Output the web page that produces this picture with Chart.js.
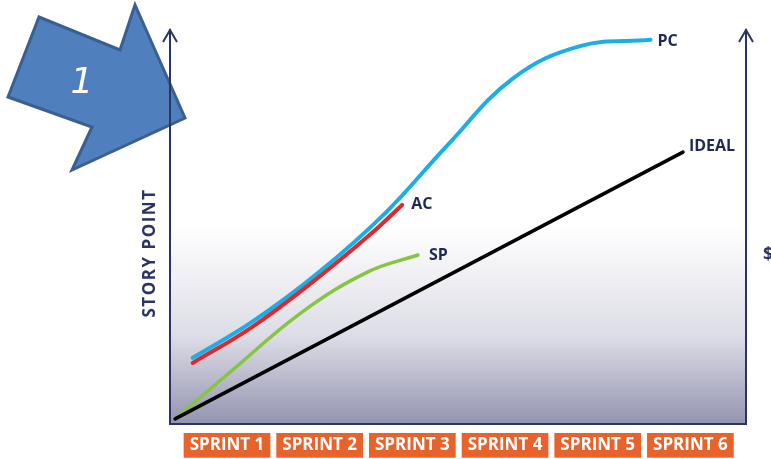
<!DOCTYPE html>
<html>
<head>
<meta charset="utf-8">
<script src="https://cdn.jsdelivr.net/npm/chart.js@4.4.0/dist/chart.umd.min.js"></script>
<style>
  html, body { margin: 0; padding: 0; background: #ffffff; }
  #wrap { width: 771px; height: 459px; }
</style>
</head>
<body>
<div id="wrap"><canvas id="burnChart" width="771" height="459"></canvas></div>
<script>
// sprint ticks (one unit per sprint, centres at n - 0.5)
const sprintLabels = ['SPRINT 1', 'SPRINT 2', 'SPRINT 3', 'SPRINT 4', 'SPRINT 5', 'SPRINT 6'];
const sprintCentres = [0.5, 1.5, 2.5, 3.5, 4.5, 5.5];

// story points (0 - 100 scale)
const idealX = [-0.06, 5.42];
const idealY = [1.3, 69.0];

const spX = [-0.05, 0.56, 1.31, 2.02, 2.56];
const spY = [1.5, 13.7, 28.4, 38.6, 42.9];

const acX = [0.13, 0.77, 1.48, 2.05, 2.39];
const acY = [15.5, 24.6, 37.1, 48.2, 55.6];

const pcX = [0.13, 0.77, 1.48, 2.21, 2.88, 3.59, 4.31, 5.07];
const pcY = [16.8, 25.9, 38.3, 53.6, 70.8, 87.8, 95.9, 97.5];

const NAVY = '#2b3463';

function pts(xs, ys) {
  return xs.map((x, i) => ({ x: x, y: ys[i] }));
}

const ctx = document.getElementById('burnChart').getContext('2d');

// background gradient, call-out arrow, axis arrowheads
const decor = {
  id: 'decor',
  beforeDraw(chart) {
    const { ctx, chartArea: a } = chart;
    const g = ctx.createLinearGradient(0, a.top, 0, a.bottom);
    g.addColorStop(0, '#ffffff');
    g.addColorStop(0.5, '#ffffff');
    g.addColorStop(0.78, '#dcdce6');
    g.addColorStop(1, '#9394b0');
    ctx.save();
    ctx.fillStyle = g;
    ctx.fillRect(a.left, a.top, a.right - a.left, a.bottom - a.top);

    // big blue arrow with the "1"
    ctx.beginPath();
    ctx.moveTo(39, 17);
    ctx.lineTo(120, 50);
    ctx.lineTo(135, 5);
    ctx.lineTo(185, 118);
    ctx.lineTo(72, 170);
    ctx.lineTo(92, 127);
    ctx.lineTo(8, 97);
    ctx.closePath();
    ctx.fillStyle = '#4f7fbd';
    ctx.fill();
    ctx.lineWidth = 3;
    ctx.strokeStyle = '#3a5f91';
    ctx.lineJoin = 'miter';
    ctx.stroke();
    ctx.fillStyle = '#ffffff';
    ctx.font = 'oblique 36px "DejaVu Sans"';
    ctx.textAlign = 'center';
    ctx.textBaseline = 'middle';
    ctx.fillText('1', 82, 84);
    ctx.restore();
  },
  afterDraw(chart) {
    const { ctx, chartArea: a } = chart;
    ctx.save();
    ctx.strokeStyle = NAVY;
    ctx.lineWidth = 2;
    [a.left, a.right].forEach(x => {
      ctx.beginPath();
      ctx.moveTo(x - 7, a.top + 12);
      ctx.lineTo(x, a.top);
      ctx.lineTo(x + 7, a.top + 12);
      ctx.stroke();
    });

    // axis titles
    ctx.fillStyle = NAVY;
    ctx.font = 'bold 17px "Open Sans"';
    ctx.textAlign = 'center';
    ctx.textBaseline = 'middle';
    ctx.translate(150, 253);
    ctx.rotate(-Math.PI / 2);
    if ('letterSpacing' in ctx) ctx.letterSpacing = '1.5px';
    ctx.fillText('STORY POINT', 0, 0);
    ctx.restore();

    ctx.save();
    ctx.fillStyle = NAVY;
    ctx.font = 'bold 18px "Open Sans"';
    ctx.textBaseline = 'middle';
    ctx.fillText('$', 763, 255);
    ctx.restore();
  }
};

// series name at the end of each line
const endLabels = {
  id: 'endLabels',
  afterDatasetsDraw(chart) {
    const { ctx } = chart;
    ctx.save();
    ctx.fillStyle = '#1f2857';
    ctx.font = 'bold 16px "Open Sans"';
    ctx.textBaseline = 'middle';
    ctx.textAlign = 'left';
    chart.data.datasets.forEach((ds, i) => {
      const meta = chart.getDatasetMeta(i);
      const last = meta.data[meta.data.length - 1];
      ctx.fillText(ds.label, last.x + ds.tagDx, last.y + ds.tagDy);
    });
    ctx.restore();
  }
};

new Chart(ctx, {
  type: 'line',
  data: {
    datasets: [
      {
        label: 'IDEAL',
        data: pts(idealX, idealY),
        borderColor: '#000000',
        borderWidth: 3.5,
        tension: 0,
        tagDx: 6, tagDy: -6
      },
      {
        label: 'SP',
        data: pts(spX, spY),
        borderColor: '#86c540',
        borderWidth: 3.5,
        tension: 0.4,
        tagDx: 11, tagDy: 0
      },
      {
        label: 'AC',
        data: pts(acX, acY),
        borderColor: '#e2262b',
        borderWidth: 4,
        tension: 0.4,
        tagDx: 9, tagDy: 0
      },
      {
        label: 'PC',
        data: pts(pcX, pcY),
        borderColor: '#1aaee6',
        borderWidth: 4,
        tension: 0.4,
        tagDx: 7, tagDy: 2
      }
    ]
  },
  options: {
    responsive: false,
    animation: false,
    layout: { padding: { top: 30, left: 0, right: 0, bottom: 0 } },
    elements: {
      point: { radius: 0, hoverRadius: 0 },
      line: { borderCapStyle: 'round', borderJoinStyle: 'round', fill: false }
    },
    scales: {
      x: {
        type: 'linear',
        min: -0.115,
        max: 6.1,
        afterBuildTicks(scale) {
          scale.ticks = sprintCentres.map(v => ({ value: v }));
        },
        afterFit(scale) { scale.height = 35; },
        grid: { display: false, drawTicks: false },
        border: { display: true, color: NAVY, width: 2 },
        ticks: {
          autoSkip: false,
          maxRotation: 0,
          padding: 12,
          color: '#ffffff',
          font: { family: 'Open Sans', size: 17, weight: 'bold', lineHeight: 1.1 },
          showLabelBackdrop: true,
          backdropColor: '#e8632b',
          backdropPadding: { x: 6, y: 3 },
          callback(value, index) { return sprintLabels[index]; }
        }
      },
      y: {
        min: 0,
        max: 100,
        position: 'left',
        afterFit(scale) { scale.width = 170; },
        grid: { display: false, drawTicks: false },
        border: { display: true, color: NAVY, width: 2 },
        ticks: { display: false }
      },
      y2: {
        min: 0,
        max: 100,
        position: 'right',
        afterFit(scale) { scale.width = 25; },
        grid: { display: false, drawTicks: false },
        border: { display: true, color: NAVY, width: 2 },
        ticks: { display: false }
      }
    },
    plugins: {
      legend: { display: false },
      tooltip: { enabled: false }
    }
  },
  plugins: [decor, endLabels]
});
</script>
</body>
</html>
